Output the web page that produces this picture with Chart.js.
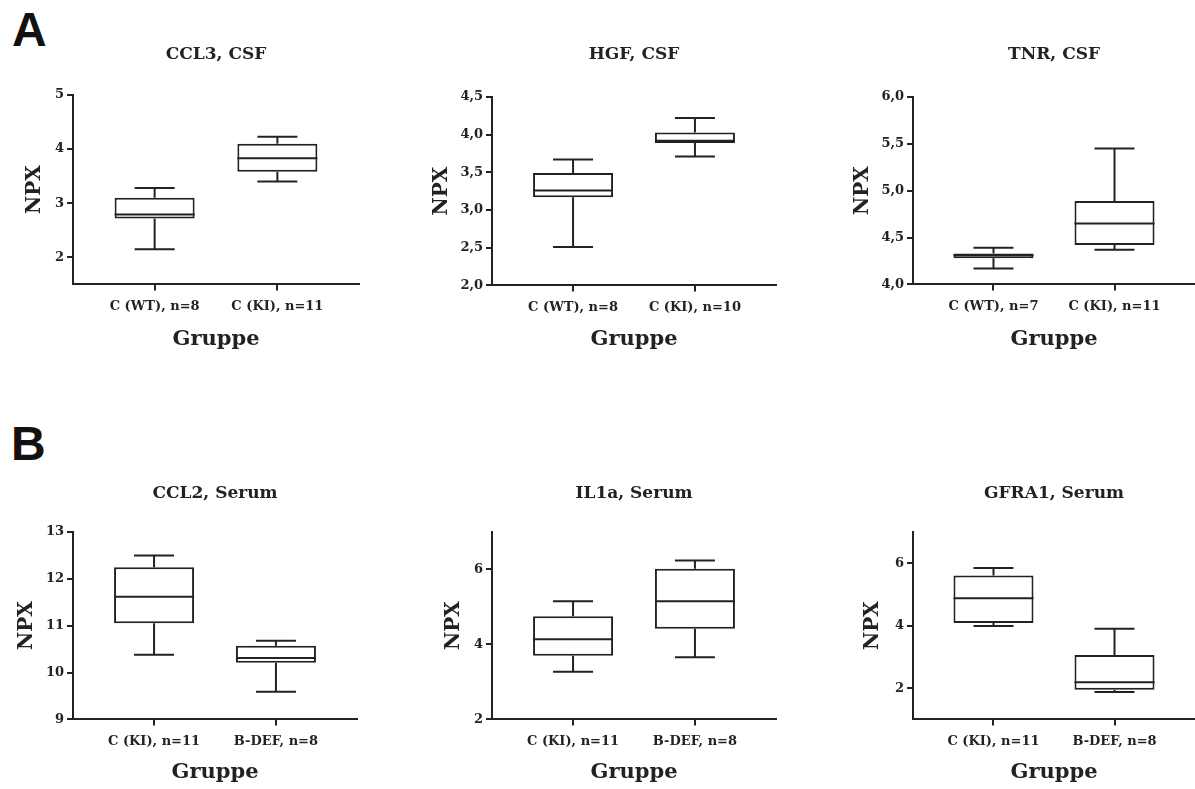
<!DOCTYPE html>
<html>
<head>
<meta charset="utf-8">
<script src="https://cdn.jsdelivr.net/npm/chart.js@4.4.1/dist/chart.umd.min.js"></script>
<style>
  html, body { margin: 0; padding: 0; background: #fff; }
  body { width: 1195px; height: 789px; position: relative; overflow: hidden; }
  .tag { position: absolute; font: bold 48px "Liberation Sans", Arial, sans-serif; line-height: 48px; color: #111; }
  canvas { position: absolute; }
</style>
</head>
<body>
<div class="tag" style="left:12px;top:6px">A</div>
<div class="tag" style="left:11px;top:420px">B</div>
<script>
// --- data ---
const panelTitles = ['CCL3, CSF', 'HGF, CSF', 'TNR, CSF', 'CCL2, Serum', 'IL1a, Serum', 'GFRA1, Serum'];
const groupLabels = [
  ['C (WT), n=8', 'C (KI), n=11'],
  ['C (WT), n=8', 'C (KI), n=10'],
  ['C (WT), n=7', 'C (KI), n=11'],
  ['C (KI), n=11', 'B-DEF, n=8'],
  ['C (KI), n=11', 'B-DEF, n=8'],
  ['C (KI), n=11', 'B-DEF, n=8']
];
const whiskerLow  = [[2.15, 3.40], [2.51, 3.71], [4.17, 4.37], [10.38, 9.59], [3.27, 3.66], [3.99, 1.88]];
const quartile1   = [[2.72, 3.58], [3.17, 3.89], [4.28, 4.42], [11.05, 10.21], [3.70, 4.42], [4.09, 1.95]];
const medians     = [[2.79, 3.83], [3.26, 3.92], [4.31, 4.65], [11.62, 10.31], [4.14, 5.15], [4.88, 2.19]];
const quartile3   = [[3.10, 4.10], [3.49, 4.03], [4.33, 4.89], [12.25, 10.57], [4.75, 6.02], [5.61, 3.06]];
const whiskerHigh = [[3.28, 4.23], [3.67, 4.22], [4.39, 5.45], [12.50, 10.68], [5.15, 6.24], [5.85, 3.90]];

const yMin = [1.5, 2, 4, 9, 2, 1];
const yMax = [5, 4.5, 6, 13, 7, 7];
const yTicks = [[2, 3, 4, 5], [2, 2.5, 3, 3.5, 4, 4.5], [4, 4.5, 5, 5.5, 6], [9, 10, 11, 12, 13], [2, 4, 6], [2, 4, 6]];
const yTickLabels = [
  ['2', '3', '4', '5'],
  ['2,0', '2,5', '3,0', '3,5', '4,0', '4,5'],
  ['4,0', '4,5', '5,0', '5,5', '6,0'],
  ['9', '10', '11', '12', '13'],
  ['2', '4', '6'],
  ['2', '4', '6']
];
const yTitle = 'NPX';
const xTitle = 'Gruppe';

// --- layout: plot area of each panel in page pixels ---
const frames = [
  {l: 73,  r: 359,  t: 95,  b: 285, top: 30,  titleMid: 55,  npx: -38, gruppeMid: 340},
  {l: 492, r: 776,  t: 97,  b: 286, top: 30,  titleMid: 55,  npx: -50, gruppeMid: 340},
  {l: 913, r: 1195, t: 97,  b: 285, top: 30,  titleMid: 55,  npx: -50, gruppeMid: 340},
  {l: 73,  r: 357,  t: 532, b: 720, top: 465, titleMid: 494, npx: -46, gruppeMid: 773},
  {l: 492, r: 776,  t: 532, b: 720, top: 465, titleMid: 494, npx: -38, gruppeMid: 773},
  {l: 913, r: 1195, t: 532, b: 720, top: 465, titleMid: 494, npx: -40, gruppeMid: 773}
];

const INK = '#222';
const FONT = '"DejaVu Serif", "Liberation Serif", serif';
const Y_AXIS_W = 73;
const X_PAD = 0.665;   // empty room left/right of the two groups, in group units
const TITLE_SIZE = 17, AXIS_TITLE_SIZE = 21, NPX_SIZE = 20, TICK_SIZE = 13;

// whiskers + median drawn on top of the floating bars
const boxWhiskers = {
  id: 'boxWhiskers',
  afterDatasetsDraw(chart) {
    const ctx = chart.ctx;
    const y = chart.scales.y;
    const ds = chart.data.datasets[0];
    const meta = chart.getDatasetMeta(0);
    ctx.save();
    ctx.strokeStyle = INK;
    ctx.lineWidth = 2;
    meta.data.forEach((bar, i) => {
      const {x, width} = bar.getProps(['x', 'width'], true);
      const half = width / 2, cap = width / 4;
      const yLo = y.getPixelForValue(ds.lo[i]);
      const yQ1 = y.getPixelForValue(ds.data[i].y[0]);
      const yQ3 = y.getPixelForValue(ds.data[i].y[1]);
      const yHi = y.getPixelForValue(ds.hi[i]);
      const yMed = y.getPixelForValue(ds.med[i]);
      ctx.beginPath();
      ctx.moveTo(x, yHi); ctx.lineTo(x, yQ3);
      ctx.moveTo(x, yQ1); ctx.lineTo(x, yLo);
      ctx.moveTo(x - cap, yHi); ctx.lineTo(x + cap, yHi);
      ctx.moveTo(x - cap, yLo); ctx.lineTo(x + cap, yLo);
      ctx.moveTo(x - half, yMed); ctx.lineTo(x + half, yMed);
      ctx.stroke();
    });
    ctx.restore();
  }
};

frames.forEach((f, k) => {
  const left = f.l - Y_AXIS_W;
  const right = Math.min(f.r + 20, 1195);
  const titleLH = TITLE_SIZE * 1.2;
  const gruppeLH = AXIS_TITLE_SIZE * 1.2;
  const bottom = f.gruppeMid + gruppeLH / 2 + 3;
  const titlePadTop = f.titleMid - f.top - titleLH / 2;
  const titlePadBottom = f.t - f.top - titlePadTop - titleLH;
  const nGroups = groupLabels[k].length;
  const unitPx = (f.r - f.l) / (nGroups - 1 + 2 * X_PAD);

  const cv = document.createElement('canvas');
  cv.width = right - left;
  cv.height = bottom - f.top;
  cv.style.left = left + 'px';
  cv.style.top = f.top + 'px';
  document.body.appendChild(cv);

  new Chart(cv, {
    type: 'bar',
    data: {
      datasets: [{
        data: quartile1[k].map((q, i) => ({x: i, y: [q, quartile3[k][i]]})),
        lo: whiskerLow[k],
        med: medians[k],
        hi: whiskerHigh[k],
        backgroundColor: '#fff',
        borderColor: INK,
        borderWidth: 2,
        borderSkipped: false,
        barPercentage: 80 / unitPx,
        categoryPercentage: 1
      }]
    },
    options: {
      responsive: false,
      animation: false,
      devicePixelRatio: 1,
      layout: {padding: {left: 0, right: right - f.r, top: 0, bottom: 0}},
      plugins: {
        legend: {display: false},
        tooltip: {enabled: false},
        title: {
          display: true,
          text: panelTitles[k],
          fullSize: false,
          color: INK,
          font: {family: FONT, size: TITLE_SIZE, weight: 'bold', lineHeight: 1.2},
          padding: {top: titlePadTop, bottom: titlePadBottom}
        }
      },
      scales: {
        x: {
          type: 'linear',
          min: -X_PAD,
          max: nGroups - 1 + X_PAD,
          offset: false,
          afterBuildTicks: s => { s.ticks = groupLabels[k].map((_, i) => ({value: i})); },
          grid: {offset: false, drawOnChartArea: false, drawTicks: true, tickLength: 6, color: INK, lineWidth: 2},
          border: {color: INK, width: 2},
          ticks: {
            color: INK, padding: 8, autoSkip: false, maxRotation: 0,
            font: {family: FONT, size: TICK_SIZE, weight: 'bold'},
            callback: (v, i) => groupLabels[k][i]
          },
          title: {
            display: true, text: xTitle, color: INK,
            font: {family: FONT, size: AXIS_TITLE_SIZE, weight: 'bold', lineHeight: 1.2},
            padding: {top: 0, bottom: 3}
          },
          afterFit: s => { s.height = bottom - f.b; }
        },
        y: {
          min: yMin[k],
          max: yMax[k],
          afterBuildTicks: s => { s.ticks = yTicks[k].map(v => ({value: v})); },
          grid: {drawOnChartArea: false, drawTicks: true, tickLength: 6, color: INK, lineWidth: 2},
          border: {color: INK, width: 2},
          ticks: {
            color: INK, padding: 3,
            font: {family: FONT, size: TICK_SIZE, weight: 'bold'},
            callback: (v, i) => yTickLabels[k][i]
          },
          title: {
            display: true, text: yTitle, color: INK,
            font: {family: FONT, size: NPX_SIZE, weight: 'bold', lineHeight: 1.2},
            padding: {top: Y_AXIS_W + f.npx - NPX_SIZE * 0.6, bottom: 0}
          },
          afterFit: s => { s.width = Y_AXIS_W; }
        }
      }
    },
    plugins: [boxWhiskers]
  });
});
</script>
</body>
</html>
